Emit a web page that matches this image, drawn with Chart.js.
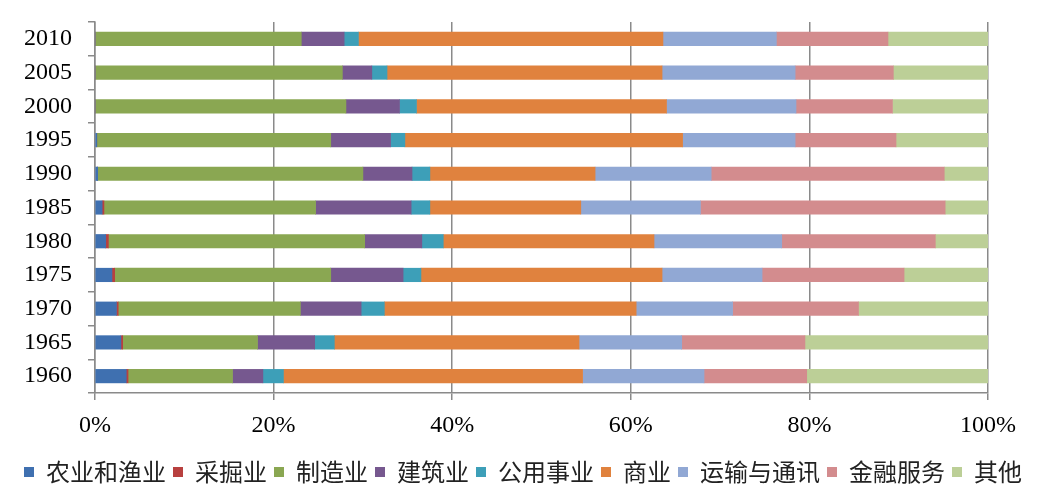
<!DOCTYPE html>
<html><head><meta charset="utf-8">
<script src="https://cdn.jsdelivr.net/npm/chart.js@4"></script>
<style>html,body{margin:0;padding:0;background:#fff;}#wrap{width:1046px;height:496px;}</style>
</head><body><div id="wrap"><canvas id="c" width="1046" height="496"></canvas></div>
<script>
const years = ['2010','2005','2000','1995','1990','1985','1980','1975','1970','1965','1960'];
const xTicks = ['0%','20%','40%','60%','80%','100%'];
const seriesNames = ['农业和渔业','采掘业','制造业','建筑业','公用事业','商业','运输与通讯','金融服务','其他'];
const agriculture   = [0.0, 0.0, 0.0, 0.2, 0.3, 0.8, 1.2, 1.9, 2.4, 2.9, 3.5];
const mining        = [0.0, 0.0, 0.0, 0.0, 0.0, 0.2, 0.3, 0.3, 0.2, 0.2, 0.2];
const manufacturing = [23.1, 27.7, 28.1, 26.2, 29.7, 23.7, 28.7, 24.2, 20.4, 15.1, 11.7];
const construction  = [4.8, 3.3, 6.0, 6.7, 5.5, 10.7, 6.4, 8.1, 6.8, 6.4, 3.4];
const utilities     = [1.6, 1.7, 1.9, 1.6, 2.0, 2.1, 2.4, 2.0, 2.6, 2.2, 2.3];
const commerce      = [34.1, 30.8, 28.0, 31.1, 18.5, 16.9, 23.6, 27.0, 28.2, 27.4, 33.5];
const transport     = [12.7, 14.9, 14.5, 12.6, 13.0, 13.4, 14.3, 11.2, 10.8, 11.5, 13.6];
const finance       = [12.5, 11.0, 10.8, 11.3, 26.1, 27.4, 17.2, 15.9, 14.1, 13.8, 11.5];
const other         = [11.2, 10.6, 10.7, 10.3, 4.9, 4.8, 5.9, 9.4, 14.5, 20.5, 20.3];

const seriesData = [agriculture, mining, manufacturing, construction, utilities, commerce, transport, finance, other];
const colors = ['#3f70b0','#b8403f','#8aa752','#76588f','#3d9fb8','#e0823e','#91a8d4','#d38c8e','#bccf97'];

const datasets = seriesNames.map((n,i)=>({label:n,data:seriesData[i],backgroundColor:colors[i],borderWidth:0,barThickness:13.5}));

new Chart(document.getElementById('c'),{
  type:'bar',
  data:{labels:years,datasets},
  options:{
    indexAxis:'y',
    responsive:false,
    animation:false,
    layout:{padding:{top:22,right:0,left:0,bottom:2}},
    plugins:{
      tooltip:{enabled:false},
      legend:{position:'bottom',
        labels:{boxWidth:10,boxHeight:10,padding:7,color:'#222',
          font:{family:"'Noto Sans CJK SC','Noto Sans',sans-serif",size:24}}}
    },
    scales:{
      x:{stacked:true,min:0,max:100,
        ticks:{stepSize:20,color:'#000',padding:11,font:{family:"'Liberation Serif','Times New Roman',serif",size:24},
          callback:(v,i)=>xTicks[i]},
        grid:{color:'#8a8a8a',lineWidth:1.5,tickLength:7,drawTicks:true},
        border:{color:'#8a8a8a',width:1.5},
        afterFit:s=>{s.height=60;}
      },
      y:{stacked:true,
        ticks:{autoSkip:false,color:'#000',padding:16,font:{family:"'Liberation Serif','Times New Roman',serif",size:24}},
        grid:{offset:true,drawOnChartArea:false,color:'#8a8a8a',lineWidth:1.5,tickLength:7},
        border:{color:'#8a8a8a',width:1.5},
        afterFit:s=>{s.width=95;s.paddingTop=0;s.paddingBottom=0;}
      },
      yr:{type:'linear',position:'right',display:true,
        ticks:{display:false},grid:{display:false,drawTicks:false},border:{display:false},
        afterFit:s=>{s.width=58;s.paddingTop=0;s.paddingBottom=0;}
      }
    }
  }
});
</script></body></html>
